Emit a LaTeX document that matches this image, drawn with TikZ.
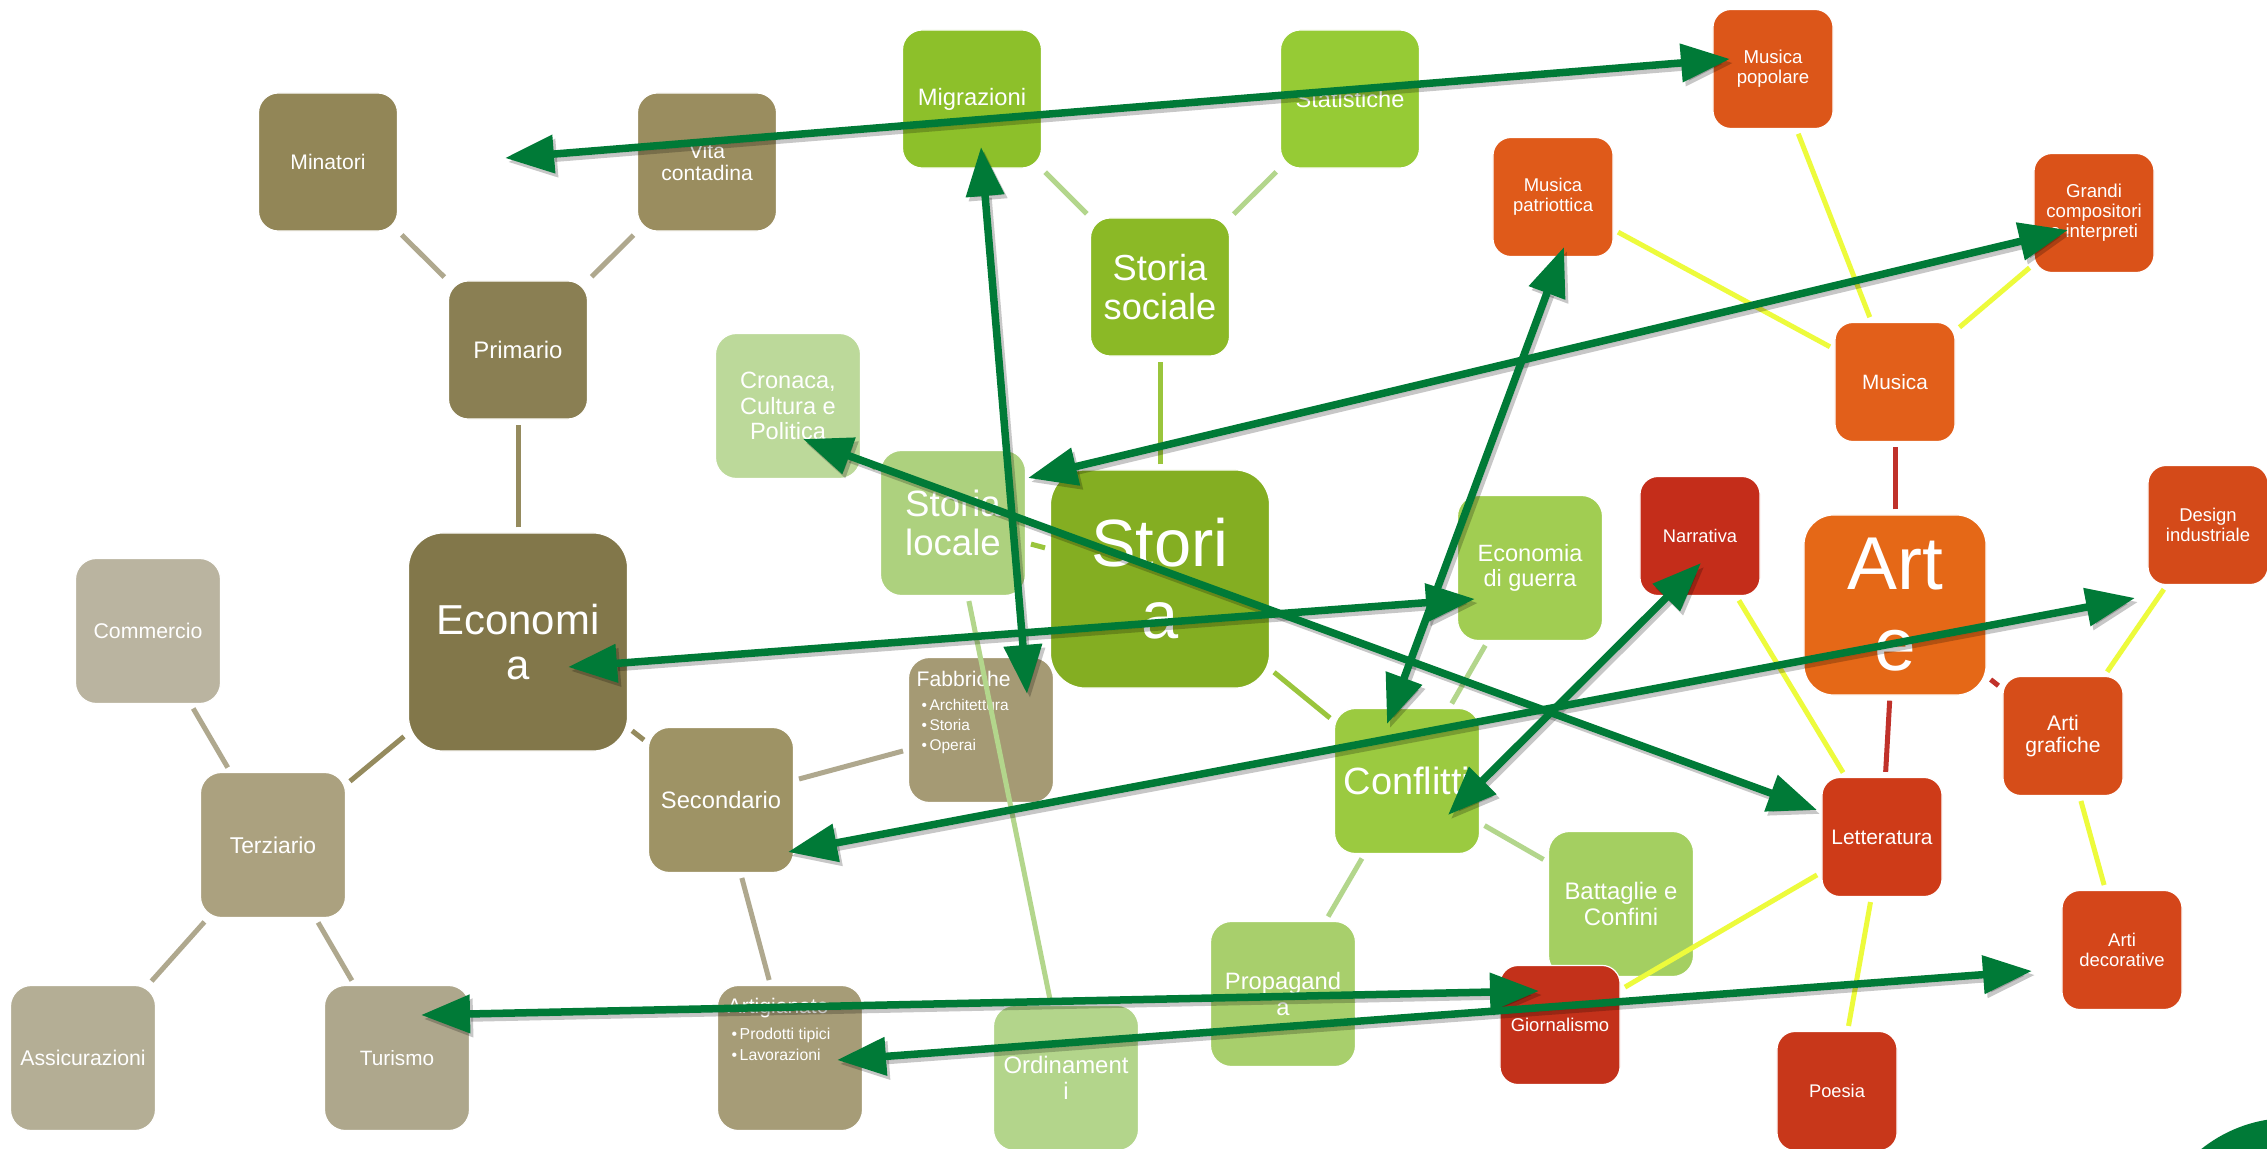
\documentclass[tikz,border=0pt]{standalone}
\usepackage{fontspec}
\setmainfont{Liberation Sans}
\usetikzlibrary{arrows.meta}
\pgfdeclarelayer{ecolines}
\pgfdeclarelayer{ecoboxes}
\pgfdeclarelayer{stolines}
\pgfdeclarelayer{stoboxes}
\pgfdeclarelayer{artlines}
\pgfdeclarelayer{artboxes}
\pgfsetlayers{ecolines,ecoboxes,stolines,stoboxes,artlines,artboxes,main}
% fills
\definecolor{cEco}{HTML}{82774A}
\definecolor{cPri}{HTML}{8A7F53}
\definecolor{cMin}{HTML}{928657}
\definecolor{cVita}{HTML}{9A8D5F}
\definecolor{cSec}{HTML}{9E9365}
\definecolor{cFab}{HTML}{A59A74}
\definecolor{cArtig}{HTML}{A69C77}
\definecolor{cTer}{HTML}{ABA17F}
\definecolor{cCom}{HTML}{BAB4A0}
\definecolor{cAss}{HTML}{B4AE95}
\definecolor{cTur}{HTML}{AEA78C}
\definecolor{cSto}{HTML}{84AE22}
\definecolor{cSS}{HTML}{8BB926}
\definecolor{cMig}{HTML}{8DC02A}
\definecolor{cStat}{HTML}{96CB35}
\definecolor{cSL}{HTML}{ADD17E}
\definecolor{cCro}{HTML}{BCD99A}
\definecolor{cOrd}{HTML}{B3D58B}
\definecolor{cCon}{HTML}{9BCA40}
\definecolor{cEG}{HTML}{A1CD52}
\definecolor{cProp}{HTML}{A8CF6C}
\definecolor{cBat}{HTML}{A4CF61}
\definecolor{cArte}{HTML}{E56817}
\definecolor{cMus}{HTML}{E25F1A}
\definecolor{cMpop}{HTML}{DC5619}
\definecolor{cMpat}{HTML}{DF5A1A}
\definecolor{cGC}{HTML}{DA5219}
\definecolor{cLet}{HTML}{CE3B18}
\definecolor{cNar}{HTML}{C42D1A}
\definecolor{cPoe}{HTML}{C8371A}
\definecolor{cGio}{HTML}{C3311A}
\definecolor{cAG}{HTML}{D64D19}
\definecolor{cDI}{HTML}{D44A19}
\definecolor{cAD}{HTML}{D4461A}
% lines
\definecolor{ecoA}{HTML}{958B5E}
\definecolor{ecoB}{HTML}{AFA88E}
\definecolor{stoA}{HTML}{9AC53C}
\definecolor{stoB}{HTML}{B3D68C}
\definecolor{artA}{HTML}{C0312A}
\definecolor{artB}{HTML}{EDFB3C}
\definecolor{arrgreen}{HTML}{007A37}
\begin{document}
\begin{tikzpicture}[x=0.01cm,y=-0.01cm,
  bx/.style={rectangle, draw=white, line width=0.012cm, text=white, align=center, inner sep=0pt},
  sm/.style={bx, minimum width=1.39cm, minimum height=1.38cm, rounded corners=0.2cm},
  md/.style={bx, minimum width=1.45cm, minimum height=1.45cm, rounded corners=0.21cm},
  xs/.style={bx, minimum width=1.20cm, minimum height=1.19cm, rounded corners=0.18cm},
  lg/.style={bx, minimum width=2.19cm, minimum height=2.18cm, rounded corners=0.35cm},
  xl/.style={bx, minimum width=1.82cm, minimum height=1.80cm, rounded corners=0.3cm},
  fz/.style={font=\fontsize{#1pt}{\dimexpr #1pt*108/100\relax}\selectfont},
  lbl/.style={anchor=base west, text=white, inner sep=0pt},
  link/.style={line width=0.05cm, shorten <=0.05cm, shorten >=0.05cm},
  arr/.style={line width=0.075cm, draw=arrgreen, fill=arrgreen,
     {Triangle[length=0.49cm,width=0.37cm]}-{Triangle[length=0.49cm,width=0.37cm]}},
  arrsh/.style={line width=0.075cm, draw=black, fill=black, opacity=0.22,
     {Triangle[length=0.49cm,width=0.37cm]}-{Triangle[length=0.49cm,width=0.37cm]},
     transform canvas={shift={(3,4)}}}
]
\useasboundingbox (0,0) rectangle (2267,1149);
\begin{pgfonlayer}{ecolines}
\fill[white] (0,0) rectangle (2267,1149);
\end{pgfonlayer}

% ---------------- Economia group ----------------
\begin{pgfonlayer}{ecoboxes}
\node[lg, fill=cEco, fz=11.9] (eco) at (518,642) {Economi\\a};
\node[sm, fill=cPri, fz=6.8] (pri) at (518,350) {Primario};
\node[sm, fill=cMin, fz=6] (min) at (328,162) {Minatori};
\node[sm, fill=cVita, fz=6] (vita) at (707,162) {Vita\\contadina};
\node[md, fill=cSec, fz=6.75] (sec) at (721,800) {Secondario};
\node[md, fill=cFab] (fab) at (981,730) {};
\node[md, fill=cArtig] (artig) at (790,1058) {};
\node[md, fill=cTer, fz=6.5] (ter) at (273,845) {Terziario};
\node[md, fill=cCom, fz=6.05] (com) at (148,631) {Commercio};
\node[md, fill=cAss, fz=6.05] (ass) at (83,1058) {Assicurazioni};
\node[md, fill=cTur, fz=5.9] (tur) at (397,1058) {Turismo};
\node[lbl, fz=6] (fabt) at (916,686) {Fabbriche};
\node[lbl, fz=4.4] (fab1) at (921,710) {•\hspace{0.7pt}Architettura};
\node[lbl, fz=4.4] (fab2) at (921,730) {•\hspace{0.7pt}Storia};
\node[lbl, fz=4.4] (fab3) at (921,750) {•\hspace{0.7pt}Operai};
\node[lbl, fz=6] (artt) at (727,1013) {Artigianato};
\node[lbl, fz=4.5] (art1) at (731,1039) {•\hspace{0.7pt}Prodotti tipici};
\node[lbl, fz=4.5] (art2) at (731,1060) {•\hspace{0.7pt}Lavorazioni};
\end{pgfonlayer}
\begin{pgfonlayer}{ecolines}
\draw[link, ecoA] (eco) -- (pri);
\draw[link, ecoA] (eco) -- (ter);
\draw[link, ecoA] (eco) -- (sec);
\draw[link, ecoB] (pri) -- (min);
\draw[link, ecoB] (pri) -- (vita);
\draw[link, ecoB] (ter) -- (com);
\draw[link, ecoB] (ter) -- (ass);
\draw[link, ecoB] (ter) -- (tur);
\draw[link, ecoB] (sec) -- (fab);
\draw[link, ecoB] (sec) -- (artig);
\end{pgfonlayer}

% ---------------- Storia group ----------------
\begin{pgfonlayer}{stoboxes}
\node[lg, fill=cSto, fz=19] (sto) at (1160,579) {Stori\\a};
\node[sm, fill=cSS, fz=10.3] (ss) at (1160,287) {Storia\\sociale};
\node[sm, fill=cMig, fz=6.75] (mig) at (972,99) {Migrazioni};
\node[sm, fill=cStat, fz=6.7] (stat) at (1350,99) {Statistiche};
\node[md, fill=cSL, fz=10.4] (sl) at (953,523) {Storia\\locale};
\node[md, fill=cCro, fz=6.7] (cro) at (788,406) {Cronaca,\\Cultura e\\Politica};
\node[md, fill=cOrd, fz=6.8] (ord) at (1066,1078) {Ordinament\\i};
\node[md, fill=cCon, fz=10.8] (con) at (1407,781) {Conflitti};
\node[md, fill=cEG, fz=6.7] (eg) at (1530,568) {Economia\\di guerra};
\node[md, fill=cProp, fz=6.75] (prop) at (1283,994) {Propagand\\a};
\node[md, fill=cBat, fz=6.8] (bat) at (1621,904) {Battaglie e\\Confini};
\end{pgfonlayer}
\begin{pgfonlayer}{stolines}
\draw[link, stoA] (sto) -- (ss);
\draw[link, stoA] (sto) -- (sl);
\draw[link, stoA] (sto) -- (con);
\draw[link, stoB] (ss) -- (mig);
\draw[link, stoB] (ss) -- (stat);
\draw[link, stoB] (sl) -- (cro);
\draw[link, stoB] (sl) -- (ord);
\draw[link, stoB] (con) -- (eg);
\draw[link, stoB] (con) -- (prop);
\draw[link, stoB] (con) -- (bat);
\end{pgfonlayer}

% ---------------- Arte group ----------------
\begin{pgfonlayer}{artboxes}
\node[xl, fill=cArte, fz=21.3] (arte) at (1895,605) {Art\\e};
\node[xs, fill=cMus, fz=5.9] (mus) at (1895,382) {Musica};
\node[xs, fill=cMpop, fz=5.3] (mpop) at (1773,69) {Musica\\popolare};
\node[xs, fill=cMpat, fz=5.25] (mpat) at (1553,197) {Musica\\patriottica};
\node[xs, fill=cGC, fz=5.3] (gc) at (2094,213) {Grandi\\compositori\\e interpreti};
\node[xs, fill=cLet, fz=5.95] (let) at (1882,837) {Letteratura};
\node[xs, fill=cNar, fz=5.2] (nar) at (1700,536) {Narrativa};
\node[xs, fill=cPoe, fz=5.2] (poe) at (1837,1091) {Poesia};
\node[xs, fill=cGio, fz=5.25] (gio) at (1560,1025) {Giornalismo};
\node[xs, fill=cAG, fz=6] (ag) at (2063,736) {Arti\\grafiche};
\node[xs, fill=cDI, fz=5.25] (di) at (2208,525) {Design\\industriale};
\node[xs, fill=cAD, fz=5.25] (ad) at (2122,950) {Arti\\decorative};
\fill[arrgreen] (2290,1260) circle[radius=1.42cm];
\end{pgfonlayer}
\begin{pgfonlayer}{artlines}
\draw[link, artA] (arte) -- (mus);
\draw[link, artA] (arte) -- (let);
\draw[link, artA] (arte) -- (ag);
\draw[link, artB] (mus) -- (mpop);
\draw[link, artB] (mus) -- (mpat);
\draw[link, artB] (mus) -- (gc);
\draw[link, artB] (let) -- (nar);
\draw[link, artB] (let) -- (poe);
\draw[link, artB] (let) -- (gio);
\draw[link, artB] (ag) -- (di);
\draw[link, artB] (ag) -- (ad);
\end{pgfonlayer}

% ---------------- cross links ----------------
\coordinate (a1s) at (505,158);   \coordinate (a1e) at (1730,59);
\coordinate (a2s) at (981,147);   \coordinate (a2e) at (1027,694);
\coordinate (a3s) at (2068,230);  \coordinate (a3e) at (1028,478);
\coordinate (a4s) at (1564,247);  \coordinate (a4e) at (1387,724);
\coordinate (a5s) at (803,439);   \coordinate (a5e) at (1817,810);
\coordinate (a6s) at (568,667);   \coordinate (a6e) at (1475,599);
\coordinate (a7s) at (1701,563);  \coordinate (a7e) at (1448,815);
\coordinate (a8s) at (2135,598);  \coordinate (a8e) at (788,852);
\coordinate (a9s) at (421,1015);  \coordinate (a9e) at (1539,991);
\coordinate (a10s) at (2032,971); \coordinate (a10e) at (837,1060);
\foreach \i in {1,...,10} {\draw[arrsh] (a\i s) -- (a\i e);}
\foreach \i in {1,...,10} {\draw[arr] (a\i s) -- (a\i e);}
\end{tikzpicture}
\end{document}
